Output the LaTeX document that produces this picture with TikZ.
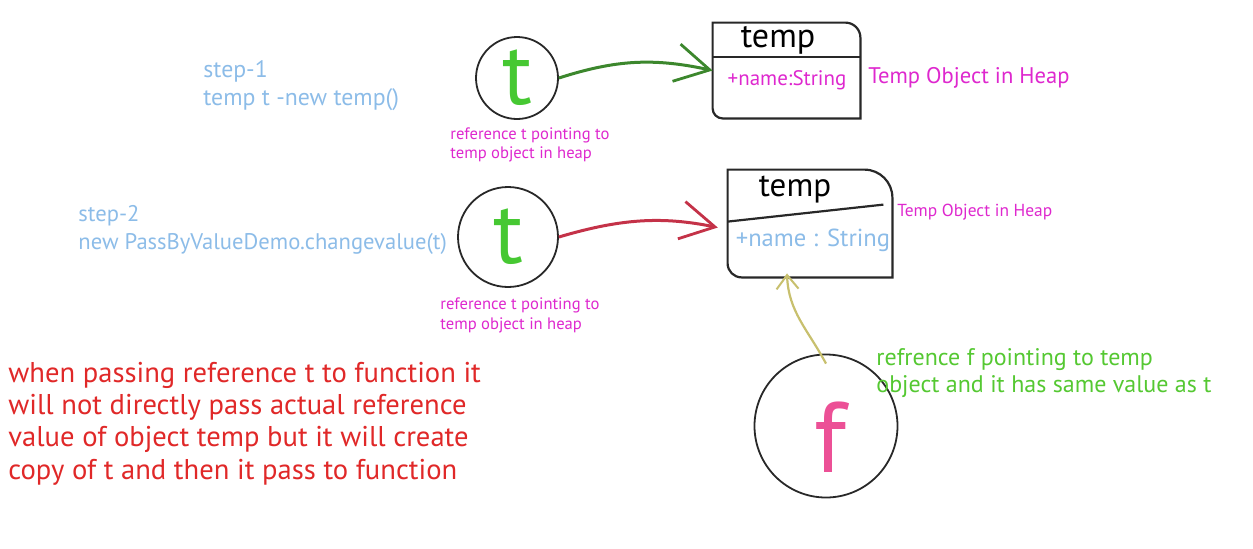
\documentclass[tikz,border=0pt]{standalone}
\usepackage{fontspec}
\setmainfont{PT Sans}
\usetikzlibrary{arrows.meta,calc}
\definecolor{stepblue}{RGB}{140,188,232}
\definecolor{labmag}{RGB}{222,40,206}
\definecolor{tgreen}{RGB}{70,200,50}
\definecolor{txtgreen}{RGB}{85,200,50}
\definecolor{txtred}{RGB}{224,40,40}
\definecolor{arrred}{RGB}{196,50,72}
\definecolor{arrgreen}{RGB}{60,135,45}
\definecolor{arryel}{RGB}{200,192,110}
\definecolor{fpink}{RGB}{236,80,150}
\definecolor{inkgray}{RGB}{40,40,40}
\begin{document}
\begin{tikzpicture}[x=0.5pt,y=-0.5pt,
  txt/.style={inner sep=0pt,anchor=west,align=left},
  refcircle/.style={circle,draw=inkgray,line width=0.9pt,inner sep=0pt},
  boxline/.style={draw=inkgray,line width=1.1pt},
  bigletter/.style={font=\fontsize{44}{44}\selectfont},
  barb/.style={-{Straight Barb[length=17pt,width=19pt,line width=1.4pt]},line width=1.5pt},
  small/.style={font=\fontsize{8.3}{9.5}\selectfont,text=labmag}
]
\useasboundingbox (0,0) rectangle (1253,548);

% step texts
\node[txt,text=stepblue,font=\fontsize{11.9}{14}\selectfont] (s1) at (203,86) {step-1\\temp t -new temp()};
\node[txt,text=stepblue,font=\fontsize{11.3}{14}\selectfont] (s2) at (78,230) {step-2\\new PassByValueDemo.changevalue(t)};

% circles
\node[refcircle,minimum size=41pt,bigletter,text=tgreen] (c1) at (517,78) {t};
\node[refcircle,minimum size=50pt,bigletter,text=tgreen] (c2) at (508,237) {t};
\node[refcircle,minimum size=71.5pt] (cf) at (826,426) {};
\node[inner sep=0pt,font=\fontsize{50}{50}\selectfont,text=fpink] (fl) at (830,437) {f};

% labels under circles
\node[txt,small] (l1) at (450,144.5) {reference t pointing to\\temp object in heap};
\node[txt,small,font=\fontsize{8.3}{10}\selectfont] (l2) at (440,315) {reference t pointing to\\temp object in heap};

% box 1
\node[minimum width=73.5pt,minimum height=47.5pt,inner sep=0pt] (box1) at (786.5,70.5) {};
\draw[boxline] ($(box1.south west)+(0pt,5pt)$) -- (box1.north west) -- ($(box1.north east)+(-7.5pt,0pt)$)
  arc[start angle=90,end angle=0,radius=7.5pt] -- (box1.south east) -- ($(box1.south west)+(5pt,0pt)$)
  arc[start angle=270,end angle=180,radius=5pt] -- cycle;
\draw[boxline] ([yshift=-17pt]box1.north west) -- ([yshift=-17pt]box1.north east);
\node[inner sep=0pt,font=\fontsize{17}{17}\selectfont,text=black] (b1t) at (778,40) {temp};
\node[inner sep=0pt,font=\fontsize{10.5}{10.5}\selectfont,text=labmag] (b1f) at (787,80) {+name:String};
\node[txt,font=\fontsize{11.3}{11.3}\selectfont,text=labmag] (h1) at (868,78) {Temp Object in Heap};

% box 2
\node[minimum width=82pt,minimum height=53.5pt,inner sep=0pt] (box2) at (810,223.5) {};
\draw[boxline] ($(box2.south west)+(0pt,7pt)$) -- (box2.north west) -- ($(box2.north east)+(-14pt,0pt)$)
  arc[start angle=90,end angle=0,radius=14pt] -- (box2.south east) -- ($(box2.south west)+(7pt,0pt)$)
  arc[start angle=270,end angle=180,radius=7pt] -- cycle;
\draw[boxline] ([yshift=-26pt]box2.north west) -- ([xshift=-4.5pt,yshift=-17.5pt]box2.north east);
\node[inner sep=0pt,font=\fontsize{16.5}{16.5}\selectfont,text=black] (b2t) at (795,190) {temp};
\node[inner sep=0pt,font=\fontsize{12.3}{12.3}\selectfont,text=stepblue] (b2f) at (813,240) {+name : String};
\node[txt,font=\fontsize{8.7}{8.7}\selectfont,text=labmag] (h2) at (897,212) {Temp Object in Heap};

% arrows
\draw[barb,draw=arrgreen] (c1.east) to[bend left=15] (box1.west);
\draw[barb,draw=arrred,shorten >=5pt] (c2.east) to[bend left=14] ([yshift=-3pt]box2.west);
\draw[-{Straight Barb[length=7pt,width=11pt,line width=1pt]},line width=1.1pt,draw=arryel]
  ([yshift=-5pt]cf.north) to[out=118,in=272] ([xshift=-11.5pt,yshift=2pt]box2.south);

% green text
\node[txt,text=txtgreen,font=\fontsize{12}{13.5}\selectfont] (g) at (876,373.5) {refrence f pointing to temp\\object and it has same value as t};

% red text
\node[txt,text=txtred,font=\fontsize{14.3}{16.2}\selectfont] (r) at (8,423.5) {when passing reference t to function it\\will not directly pass actual reference\\value of object temp but it will create\\copy of t and then it pass to function};
\end{tikzpicture}
\end{document}
